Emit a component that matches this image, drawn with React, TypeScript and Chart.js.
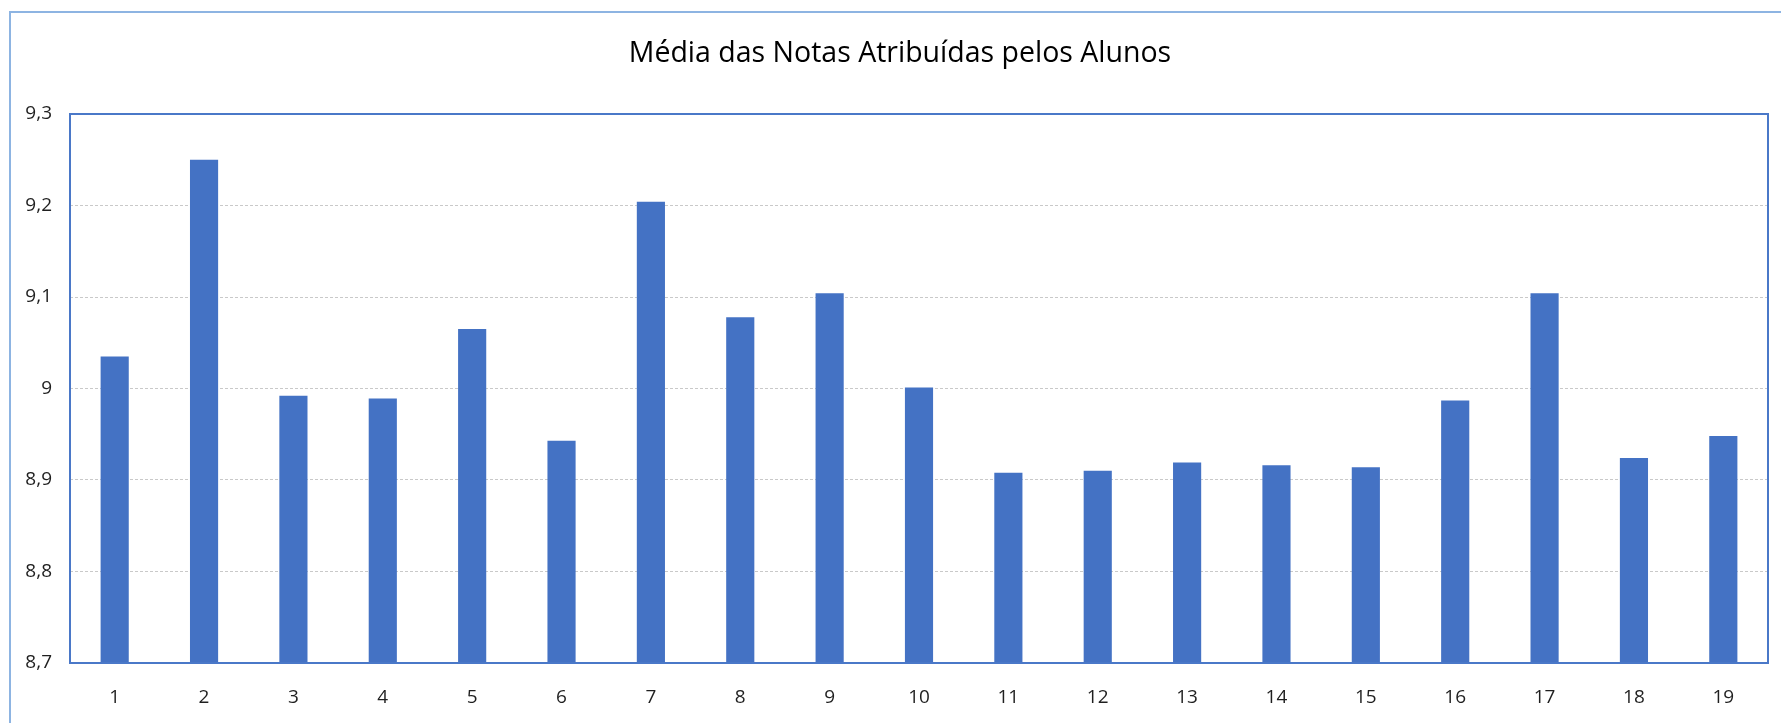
import React, { useEffect, useRef } from 'react';
import { Chart, registerables } from 'chart.js';

Chart.register(...registerables);

const categories = ['1', '2', '3', '4', '5', '6', '7', '8', '9', '10', '11', '12', '13', '14', '15', '16', '17', '18', '19'];
const mediaNotas = [9.035, 9.25, 8.992, 8.989, 9.065, 8.943, 9.204, 9.078, 9.104, 9.001, 8.908, 8.91, 8.919, 8.916, 8.914, 8.987, 9.104, 8.924, 8.948];
const yTicks = [8.7, 8.8, 8.9, 9.0, 9.1, 9.2, 9.3];
const chartTitle = 'Média das Notas Atribuídas pelos Alunos';

const W = 1781;
const H = 723;
const FONT = 'Open Sans';

const framePlugin = {
  id: 'frame',
  beforeDraw(chart: any) {
    const ctx = chart.ctx;
    ctx.save();
    ctx.fillStyle = '#ffffff';
    ctx.fillRect(0, 0, chart.width, chart.height);
    ctx.strokeStyle = '#8db4e2';
    ctx.lineWidth = 2;
    ctx.strokeRect(10, 12, chart.width + 50, chart.height + 50);
    ctx.restore();
  },
  afterDraw(chart: any) {
    const { ctx, chartArea } = chart;
    ctx.save();
    ctx.strokeStyle = '#4a78c8';
    ctx.lineWidth = 2;
    ctx.strokeRect(chartArea.left, chartArea.top, chartArea.right - chartArea.left, chartArea.bottom - chartArea.top);
    // title
    ctx.fillStyle = '#000000';
    ctx.font = `28.5px "${FONT}"`;
    ctx.textAlign = 'center';
    ctx.textBaseline = 'alphabetic';
    ctx.fillText(chartTitle, 900, 62);
    ctx.restore();
  },
};

function fmt(v: number): string {
  const r = Math.round(v * 10) / 10;
  return String(r).replace('.', ',');
}

export default function App() {
  const ref = useRef<HTMLCanvasElement | null>(null);

  useEffect(() => {
    if (!ref.current) return;
    const chart = new Chart(ref.current, {
      type: 'bar',
      data: {
        labels: categories,
        datasets: [
          {
            label: 'Média',
            data: mediaNotas,
            backgroundColor: '#4472c4',
            borderWidth: 0,
            barPercentage: 0.315,
            categoryPercentage: 1,
          },
        ],
      },
      options: {
        responsive: false,
        animation: false,
        devicePixelRatio: 1,
        layout: { padding: { left: 0, right: 13, top: 114, bottom: 0 } },
        plugins: {
          legend: { display: false },
          tooltip: { enabled: false },
          title: { display: false },
        },
        scales: {
          x: {
            grid: { display: false },
            border: { display: false },
            ticks: {
              color: '#1f1f1f',
              font: { family: FONT, size: 19 },
              padding: 15,
              maxRotation: 0,
            },
            afterFit(scale: any) {
              scale.height = 60;
            },
          },
          y: {
            min: yTicks[0],
            max: yTicks[yTicks.length - 1],
            afterBuildTicks(scale: any) {
              scale.ticks = yTicks.map((v) => ({ value: v }));
            },
            grid: {
              color: '#c9c9c9',
              lineWidth: 1,
              drawTicks: false,
              tickLength: 0,
            },
            border: { display: false, dash: [3, 2] },
            ticks: {
              color: '#1f1f1f',
              font: { family: FONT, size: 19 },
              padding: 18,
              callback: (v: any) => fmt(Number(v)),
            },
            afterFit(scale: any) {
              scale.width = 70;
            },
          },
        },
      },
      plugins: [framePlugin],
    });
    return () => chart.destroy();
  }, []);

  return (
    <div style={{ position: 'absolute', left: 0, top: 0, width: W, height: H }}>
      <canvas ref={ref} width={W} height={H} style={{ width: W, height: H, display: 'block' }} />
    </div>
  );
}
